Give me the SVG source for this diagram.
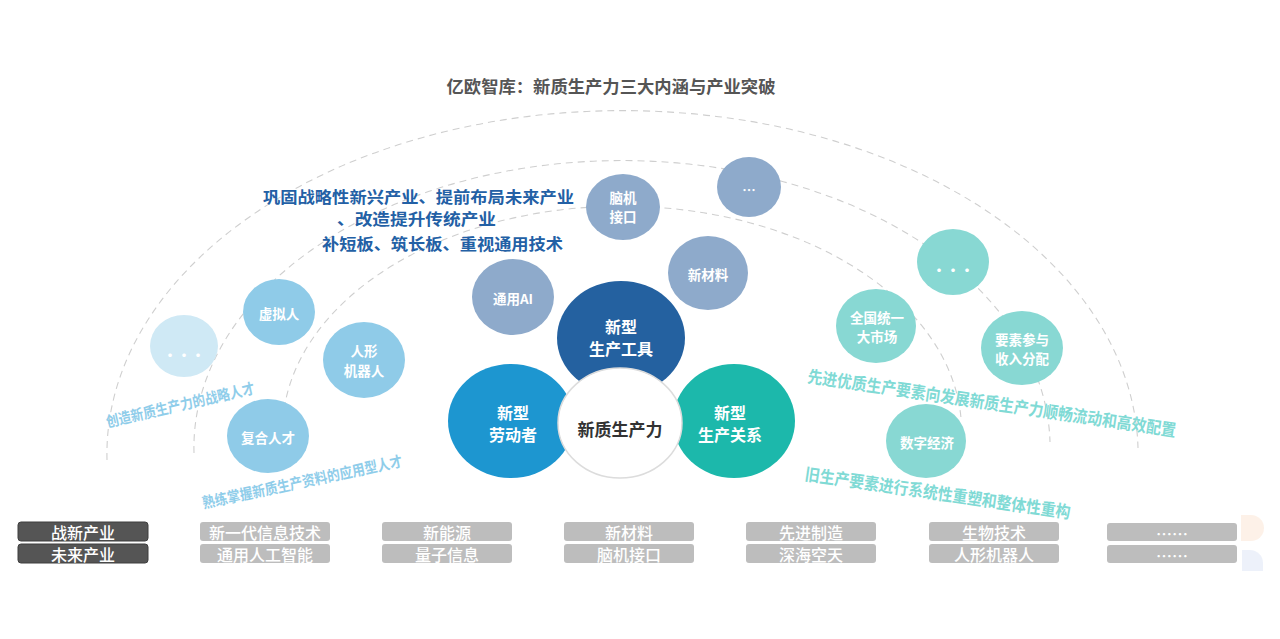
<svg xmlns="http://www.w3.org/2000/svg" width="1280" height="639" viewBox="0 0 1280 639">
<defs>
<style>
text{font-family:"Noto Sans CJK SC","Noto Sans",sans-serif;text-anchor:middle;dominant-baseline:central}
.arc{fill:none;stroke:#cfcfcf;stroke-width:1.1;stroke-dasharray:7 5}
.ct{fill:#fff;font-size:13.5px;font-weight:700}
.bt{fill:#fff;font-size:16px;font-weight:700}
.dots{fill:#fff;font-size:14px;font-weight:700}
.lb{fill:#8fcbe8}.gb{fill:#8eaacb}.tl{fill:#88d8d3}
.bx{fill:#bdbdbd}
.bxt{fill:#fff;font-size:16px;font-weight:500}
.blue{fill:#2360a5;font-size:16px;font-weight:700}
.rl{fill:#8fcdea;font-size:15px;font-weight:700}
.rr{fill:#80dad5;font-size:17px;font-weight:700}
</style>
</defs>
<rect width="1280" height="639" fill="#fff"/>
<text x="611" y="86" fill="#555" font-size="16.5" font-weight="700" textLength="329" lengthAdjust="spacingAndGlyphs">亿欧智库：新质生产力三大内涵与产业突破</text>
<g id="connectors">
<path class="arc" d="M107,460 A515,343 0 0 1 1138,448"/>
<path class="arc" d="M194,453 A428,287 0 0 1 1050,442"/>
<path class="arc" d="M283,445 A339,225 0 0 1 961,418"/>
</g>
<g id="headline">
<text class="blue" x="418.5" y="196" textLength="311" lengthAdjust="spacingAndGlyphs">巩固战略性新兴产业、提前布局未来产业</text>
<text class="blue" x="416.5" y="218" textLength="159" lengthAdjust="spacingAndGlyphs">、改造提升传统产业</text>
<text class="blue" x="442.5" y="243" textLength="241" lengthAdjust="spacingAndGlyphs">补短板、筑长板、重视通用技术</text>
</g>
<g id="n-more-left"><ellipse cx="184" cy="346" rx="34" ry="31" fill="#cfe9f5"/><text class="dots" x="184" y="354">•••</text></g>
<g id="n-xunirn"><ellipse class="lb" cx="279" cy="312" rx="36" ry="33"/><text class="ct" x="279" y="313">虚拟人</text></g>
<g id="n-renxing"><ellipse class="lb" cx="364" cy="360" rx="41" ry="38"/><text class="ct" x="364" y="350">人形</text><text class="ct" x="364" y="369.5">机器人</text></g>
<g id="n-fuhe"><ellipse class="lb" cx="268" cy="436" rx="41" ry="37"/><text class="ct" x="268" y="437">复合人才</text></g>
<g id="n-ai"><ellipse class="gb" cx="513" cy="297" rx="41" ry="38"/><text class="ct" x="513" y="298">通用AI</text></g>
<g id="n-naoji"><ellipse class="gb" cx="623" cy="207" rx="37" ry="33"/><text class="ct" x="623" y="197">脑机</text><text class="ct" x="623" y="216">接口</text></g>
<g id="n-more-top"><ellipse class="gb" cx="749" cy="187" rx="32" ry="30"/><text class="ct" x="749" y="189" font-size="11">…</text></g>
<g id="n-xincailiao"><ellipse class="gb" cx="708" cy="273" rx="40" ry="37"/><text class="ct" x="708" y="274">新材料</text></g>
<g id="n-gongju"><ellipse cx="621" cy="338" rx="64" ry="57" fill="#2461a0"/><text class="bt" x="621" y="325.5">新型</text><text class="bt" x="621" y="347.5">生产工具</text></g>
<g id="n-laodong"><ellipse cx="511" cy="421" rx="63" ry="57" fill="#1d96d0"/><text class="bt" x="513" y="412">新型</text><text class="bt" x="513" y="434">劳动者</text></g>
<g id="n-guanxi"><ellipse cx="734" cy="421" rx="61" ry="57" fill="#1cb8ab"/><text class="bt" x="730" y="412">新型</text><text class="bt" x="730" y="434">生产关系</text></g>
<g id="n-center"><ellipse cx="620" cy="423" rx="62" ry="55" fill="#fff" stroke="#dcdcdc" stroke-width="1.5"/><text x="620" y="428" fill="#333" font-size="17" font-weight="700">新质生产力</text></g>
<g id="n-more-right"><ellipse class="tl" cx="953" cy="262" rx="36" ry="33"/><text class="dots" x="953" y="269">•••</text></g>
<g id="n-shichang"><ellipse class="tl" cx="876" cy="326" rx="40" ry="37"/><text class="ct" x="877" y="317">全国统一</text><text class="ct" x="877" y="336">大市场</text></g>
<g id="n-yaosu"><ellipse class="tl" cx="1022" cy="348" rx="41" ry="37"/><text class="ct" x="1022" y="339">要素参与</text><text class="ct" x="1022" y="358">收入分配</text></g>
<g id="n-shuzi"><ellipse class="tl" cx="926" cy="441" rx="40" ry="37"/><text class="ct" x="927" y="442">数字经济</text></g>
<g id="rotated-labels">
<text class="rl" transform="translate(180,404) rotate(-13)" textLength="152" lengthAdjust="spacingAndGlyphs">创造新质生产力的战略人才</text>
<text class="rl" transform="translate(302,481) rotate(-12)" textLength="204" lengthAdjust="spacingAndGlyphs">熟练掌握新质生产资料的应用型人才</text>
<text class="rr" transform="translate(992,402) rotate(8.4)" textLength="372" lengthAdjust="spacingAndGlyphs">先进优质生产要素向发展新质生产力顺畅流动和高效配置</text>
<text class="rr" transform="translate(938,492) rotate(8.3)" textLength="268" lengthAdjust="spacingAndGlyphs">旧生产要素进行系统性重塑和整体性重构</text>
</g>
<g id="industry-table">
<rect x="18" y="522" width="130" height="19" rx="3" fill="#555" stroke="#3f3f3f"/>
<rect x="18" y="544" width="130" height="19" rx="3" fill="#555" stroke="#3f3f3f"/>
<text class="bxt" x="83" y="531.5">战新产业</text><text class="bxt" x="83" y="553.5">未来产业</text>
<rect class="bx" x="200" y="522" width="130" height="19" rx="3"/><rect class="bx" x="200" y="544" width="130" height="19" rx="3"/>
<text class="bxt" x="265" y="531.5">新一代信息技术</text><text class="bxt" x="265" y="553.5">通用人工智能</text>
<rect class="bx" x="382" y="522" width="130" height="19" rx="3"/><rect class="bx" x="382" y="544" width="130" height="19" rx="3"/>
<text class="bxt" x="447" y="531.5">新能源</text><text class="bxt" x="447" y="553.5">量子信息</text>
<rect class="bx" x="564" y="522" width="130" height="19" rx="3"/><rect class="bx" x="564" y="544" width="130" height="19" rx="3"/>
<text class="bxt" x="629" y="531.5">新材料</text><text class="bxt" x="629" y="553.5">脑机接口</text>
<rect class="bx" x="746" y="522" width="130" height="19" rx="3"/><rect class="bx" x="746" y="544" width="130" height="19" rx="3"/>
<text class="bxt" x="811" y="531.5">先进制造</text><text class="bxt" x="811" y="553.5">深海空天</text>
<rect class="bx" x="929" y="522" width="130" height="19" rx="3"/><rect class="bx" x="929" y="544" width="130" height="19" rx="3"/>
<text class="bxt" x="994" y="531.5">生物技术</text><text class="bxt" x="994" y="553.5">人形机器人</text>
<rect class="bx" x="1107" y="523" width="130" height="18" rx="3"/><rect class="bx" x="1107" y="545" width="130" height="18" rx="3"/>
<text class="bxt" x="1172" y="533" font-size="12">……</text><text class="bxt" x="1172" y="555" font-size="12">……</text>
</g>
<path d="M1241,515 h10 a13,13 0 0 1 0,26 h-10 z" fill="#fdeee2" opacity="0.8"/>
<path d="M1242,550 h8 a13,13 0 0 1 13,13 v8 h-21 z" fill="#e8eef9" opacity="0.8"/>
</svg>
